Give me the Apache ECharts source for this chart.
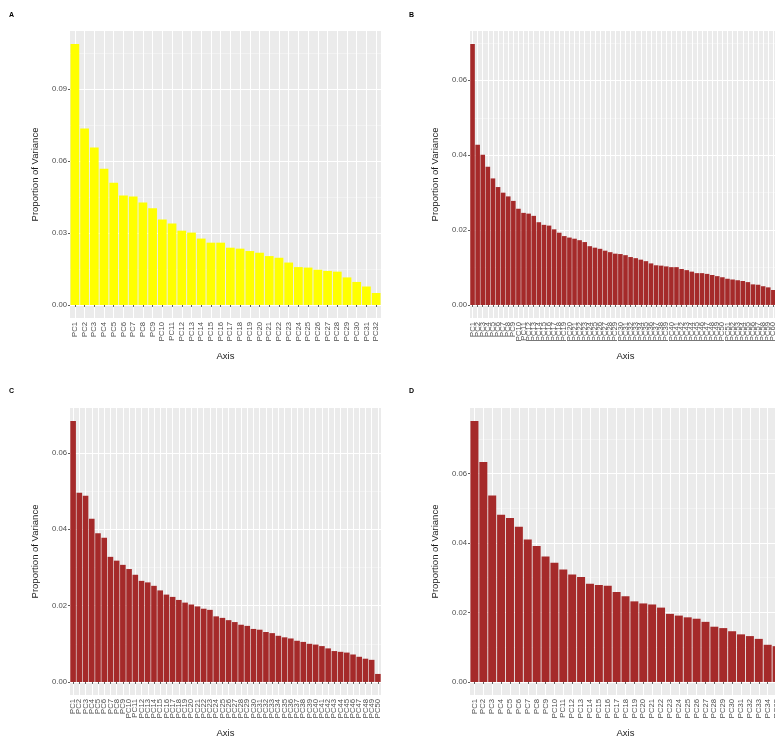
<!DOCTYPE html>
<html>
<head>
<meta charset="utf-8">
<script src="https://cdn.jsdelivr.net/npm/echarts@6/dist/echarts.min.js"></script>
<style>
  html, body { margin: 0; padding: 0; background: #fff; overflow: hidden; }
  #chart { width: 800px; height: 740px; }
</style>
</head>
<body>
<div id="chart"></div>
<script>
// proportion of variance per principal component
const varA = [0.1089, 0.0736, 0.0657, 0.0568, 0.0510, 0.0457, 0.0453, 0.0428, 0.0404, 0.0357,
  0.0340, 0.0310, 0.0302, 0.0277, 0.0260, 0.0260, 0.0239, 0.0235, 0.0225, 0.0218,
  0.0204, 0.0197, 0.0177, 0.0158, 0.0156, 0.0147, 0.0142, 0.0139, 0.0115, 0.0096,
  0.0077, 0.0050];
const varB = [0.0697, 0.0428, 0.0401, 0.0369, 0.0338, 0.0315, 0.0300, 0.0290, 0.0278, 0.0257,
  0.0246, 0.0244, 0.0238, 0.0221, 0.0214, 0.0212, 0.0202, 0.0193, 0.0184, 0.0180,
  0.0177, 0.0173, 0.0168, 0.0157, 0.0153, 0.0150, 0.0145, 0.0141, 0.0137, 0.0136,
  0.0133, 0.0128, 0.0125, 0.0121, 0.0117, 0.0111, 0.0106, 0.0105, 0.0103, 0.0101,
  0.0101, 0.0096, 0.0093, 0.0089, 0.0085, 0.0085, 0.0083, 0.0080, 0.0077, 0.0074,
  0.0070, 0.0068, 0.0066, 0.0064, 0.0061, 0.0055, 0.0054, 0.0050, 0.0047, 0.0040,
  0.0037];
const varC = [0.0684, 0.0496, 0.0488, 0.0428, 0.0390, 0.0378, 0.0328, 0.0318, 0.0307, 0.0296,
  0.0281, 0.0265, 0.0261, 0.0252, 0.0240, 0.0229, 0.0223, 0.0215, 0.0208, 0.0203,
  0.0198, 0.0192, 0.0189, 0.0172, 0.0168, 0.0162, 0.0157, 0.0150, 0.0147, 0.0139,
  0.0137, 0.0131, 0.0128, 0.0121, 0.0117, 0.0114, 0.0108, 0.0105, 0.0100, 0.0098,
  0.0094, 0.0088, 0.0081, 0.0079, 0.0077, 0.0072, 0.0066, 0.0061, 0.0058, 0.0021];
const varD = [0.0751, 0.0633, 0.0537, 0.0481, 0.0472, 0.0447, 0.0410, 0.0391, 0.0361, 0.0343,
  0.0324, 0.0309, 0.0302, 0.0283, 0.0279, 0.0277, 0.0259, 0.0247, 0.0232, 0.0226,
  0.0223, 0.0214, 0.0196, 0.0191, 0.0186, 0.0182, 0.0173, 0.0159, 0.0155, 0.0146,
  0.0137, 0.0132, 0.0124, 0.0107, 0.0103];

const ticksA = [0, 0.03, 0.06, 0.09];
const minorA = [0.015, 0.045, 0.075, 0.105];
const ticksB = [0, 0.02, 0.04, 0.06];
const minorB = [0.01, 0.03, 0.05, 0.07];
const ticksC = [0, 0.02, 0.04, 0.06];
const minorC = [0.01, 0.03, 0.05];
const ticksD = [0, 0.02, 0.04, 0.06];
const minorD = [0.01, 0.03, 0.05, 0.07];

const pcNames = n => Array.from({ length: n }, (_, i) => 'PC' + (i + 1));

const font = 'Liberation Sans, Arial, sans-serif';
const panels = [
  { letter: 'A', values: varA, ticks: ticksA, minor: minorA, color: '#FFFF00', left: 70, top: 31, lx: 9, ly: 12 },
  { letter: 'B', values: varB, ticks: ticksB, minor: minorB, color: '#A52A2A', left: 470, top: 31, lx: 409, ly: 12 },
  { letter: 'C', values: varC, ticks: ticksC, minor: minorC, color: '#A52A2A', left: 70, top: 408, lx: 9, ly: 388 },
  { letter: 'D', values: varD, ticks: ticksD, minor: minorD, color: '#A52A2A', left: 470, top: 408, lx: 409, ly: 388 }
];

const grid = [], xAxis = [], yAxis = [], series = [], title = [];

panels.forEach((p, g) => {
  const cats = pcNames(p.values.length);
  const top = Math.max(...p.values);
  // ggplot style 5% expansion on both ends
  const lo = -0.05 * top, hi = 1.05 * top;

  title.push({
    text: p.letter, left: p.lx, top: p.ly, padding: 0,
    textStyle: { fontSize: 7, fontWeight: 'bold', color: '#000', fontFamily: font }
  });

  grid.push({
    left: p.left, top: p.top, width: 311, height: 287,
    show: true, backgroundColor: '#EBEBEB', borderWidth: 0
  });

  xAxis.push({
    type: 'category', gridIndex: g, data: cats, position: 'bottom',
    axisLine: { show: false },
    axisTick: { show: true, alignWithLabel: true, interval: 0, length: 2, lineStyle: { color: '#333', width: 0.8 } },
    axisLabel: { interval: 0, rotate: 90, fontSize: 7.7, color: '#4D4D4D', margin: 4, fontFamily: font },
    splitLine: { show: false },
    name: 'Axis', nameLocation: 'middle', nameGap: 33,
    nameTextStyle: { fontSize: 9.5, color: '#1a1a1a', fontFamily: font }
  });
  // white vertical lines through the middle of each category
  xAxis.push({
    type: 'value', gridIndex: g, position: 'top', min: 0, max: cats.length,
    axisLine: { show: false }, axisLabel: { show: false },
    axisTick: { show: false, customValues: cats.map((_, i) => i + 0.5) },
    splitLine: { show: true, lineStyle: { color: '#FFFFFF', width: 1 } }
  });

  yAxis.push({
    type: 'value', gridIndex: g, min: lo, max: hi,
    axisLine: { show: false },
    axisTick: { show: true, customValues: p.ticks, length: 2, lineStyle: { color: '#333', width: 0.8 } },
    axisLabel: { customValues: p.ticks, formatter: v => v.toFixed(2), fontSize: 7.7, color: '#4D4D4D', margin: 3, fontFamily: font },
    splitLine: { show: true, lineStyle: { color: '#FFFFFF', width: 1 } },
    name: 'Proportion of Variance', nameLocation: 'middle', nameGap: 30,
    nameTextStyle: { fontSize: 9.5, color: '#1a1a1a', fontFamily: font }
  });
  yAxis.push({
    type: 'value', gridIndex: g, position: 'right', min: lo, max: hi,
    axisLine: { show: false }, axisLabel: { show: false },
    axisTick: { show: false, customValues: p.minor },
    splitLine: { show: true, lineStyle: { color: '#F7F7F7', width: 0.6 } }
  });

  series.push({
    type: 'bar', xAxisIndex: g * 2, yAxisIndex: g * 2, data: p.values,
    barCategoryGap: '10%', itemStyle: { color: p.color }, silent: true
  });
});

const chart = echarts.init(document.getElementById('chart'), null, { renderer: 'canvas' });
chart.setOption({
  animation: false,
  backgroundColor: '#FFFFFF',
  title, grid, xAxis, yAxis, series
});
</script>
</body>
</html>
